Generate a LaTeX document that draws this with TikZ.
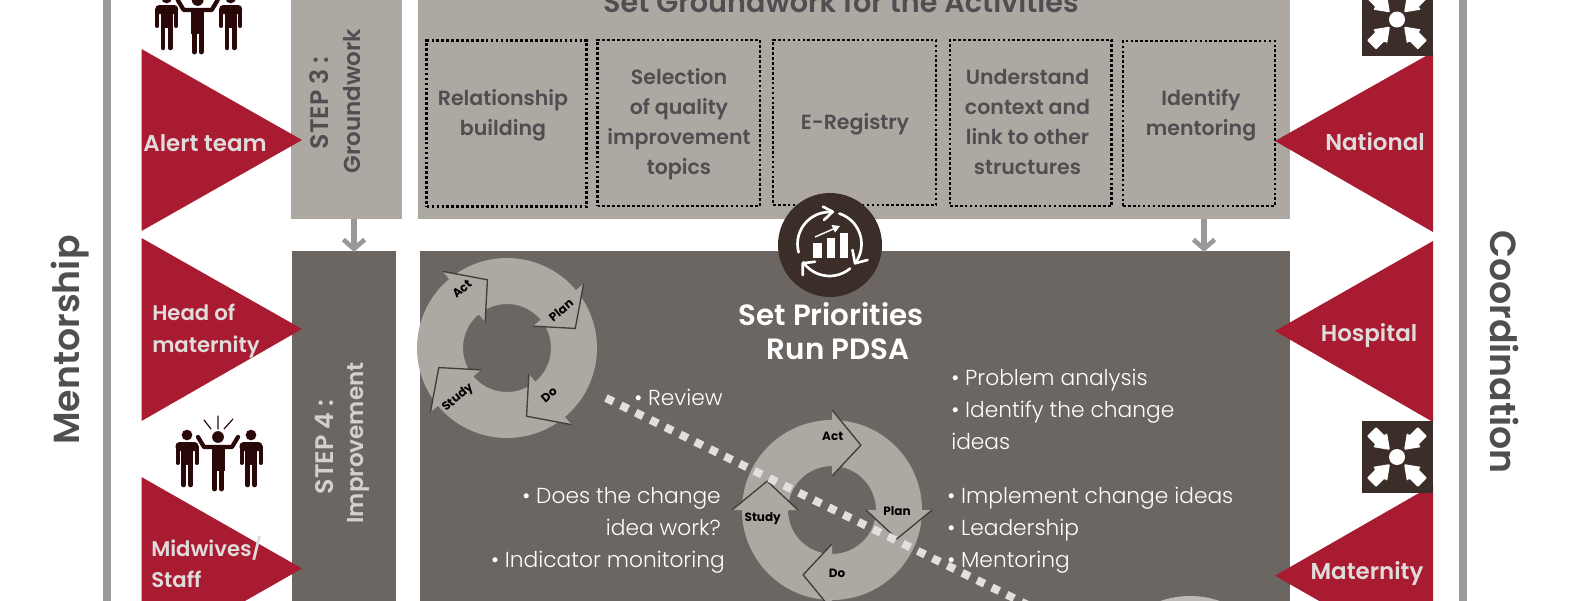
\documentclass[tikz,border=0pt]{standalone}
\usepackage{fontspec}
\usetikzlibrary{arrows.meta}
\setmainfont{Poppins}[BoldFont={* SemiBold}]
\newfontfamily\lightf{Poppins Light}
\newfontfamily\heavyf{Poppins Bold}
\definecolor{tan}{HTML}{ADA9A2}
\definecolor{slate}{HTML}{6B6661}
\definecolor{crimson}{HTML}{A81B30}
\definecolor{cocoa}{HTML}{3B2D27}
\definecolor{inkgray}{HTML}{504E50}
\definecolor{barg}{HTML}{999999}
\definecolor{pale}{HTML}{E0DCDC}
\definecolor{figc}{HTML}{2A0808}
\colorlet{edgec}{slate!60!black}
\tikzset{
 x=0.75pt,y=-0.75pt,
 panel/.style={draw=none,inner sep=0,outer sep=0},
 dotbox/.style={draw=black,line width=2pt,dash pattern=on 2pt off 1.7pt,inner sep=0,outer sep=0},
 boxtxt/.style={font=\bfseries\fontsize{15.4}{22.5}\selectfont,text=inkgray,align=center,inner sep=0},
 tritxt/.style={font=\bfseries\fontsize{17.2}{23.3}\selectfont,text=pale,align=left,inner sep=0},
 tritwo/.style={font=\bfseries\fontsize{15.9}{23.3}\selectfont,text=pale,align=left,inner sep=0},
 tri/.style={fill=crimson,draw=none},
 sidetxt/.style={font=\bfseries\fontsize{27.2}{30}\selectfont,text=inkgray,rotate=90,inner sep=0},
 steptxt/.style={font=\bfseries\fontsize{17.3}{26}\selectfont,rotate=90,inner sep=0,align=center},
 stepcap/.style={font=\bfseries\fontsize{19}{26}\selectfont,rotate=90,inner sep=0,align=center},
 headtxt/.style={font=\bfseries\fontsize{22}{26}\selectfont,text=white,inner sep=0},
 body/.style={font=\lightf\fontsize{16.3}{24}\selectfont,text=white,inner sep=0},
 downarrow/.style={draw=barg,line width=4.5pt,-{Straight Barb[length=7pt,width=16pt,line width=3.5pt]}},
 ringlab/.style={font=\heavyf\fontsize{9}{11}\selectfont,text=black,inner sep=0},
 ico/.style={draw=white,line width=2pt,line cap=round,line join=round},
}
\newcommand{\pdsaring}[2]{%
 \begin{scope}[shift={(#1)},x=0.75pt,y=0.75pt,rotate=#2]
  \fill[tan,even odd rule] (0,0) circle (67.5pt) (0,0) circle (33pt);
  \foreach \a in {90,0,-90,180}{
   \fill[tan] (\a:100) -- (\a-24:71) -- (\a:34) -- cycle;
   \draw[edgec,line width=1pt] (\a:100) -- (\a-24:71) -- (\a:34);
  }
 \end{scope}}
\newcommand{\sideman}[1]{%
 \begin{scope}[shift={(#1)},figc,line cap=round]
  \fill (0,0) circle (4pt);
  \fill[rounded corners=3pt] (-11.5,7) rectangle (11.5,16);
  \fill (-6,10) rectangle (6,30);
  \draw[line width=3pt] (-9.5,12) -- (-9.5,28) (9.5,12) -- (9.5,28);
  \draw[line width=3.4pt] (-3.6,28) -- (-3.6,50) (3.6,28) -- (3.6,50);
 \end{scope}}
\newcommand{\peoplegroup}[1]{%
 \begin{scope}[shift={(#1)}]
  \sideman{-31,-2}\sideman{33,-2}
  \begin{scope}[figc,line cap=round]
   \fill (0,0) circle (4.4pt);
   \fill (-6.5,10) rectangle (6.5,34);
   \draw[line width=3.2pt,line join=round] (-20,0) -- (-14,10) -- (14,10) -- (20,0);
   \draw[line width=3.6pt] (-3.4,32) -- (-3.4,52) (3.4,32) -- (3.4,52);
   \draw[line width=.9pt] (-14,-17) -- (-7,-8) (0,-21) -- (0,-8) (15,-18) -- (6,-8);
  \end{scope}
 \end{scope}}
\newcommand{\converge}[1]{%
 \begin{scope}[shift={(#1)},x=0.75pt,y=0.75pt]
  \fill[cocoa] (-35.5,-36) rectangle (35.5,36);
  \fill[white] (0,0) circle (6pt);
  \foreach \r in {45,135,225,315}{
   \fill[white,rotate=\r,rounded corners=.8pt] (10,0) -- (24,10) -- (24,6.5) -- (36,6.5) -- (36,-6.5) -- (24,-6.5) -- (24,-10) -- cycle;
  }
 \end{scope}}
\begin{document}
\begin{tikzpicture}
\clip (0,0) rectangle (1574,600);
\fill[white] (0,0) rectangle (1574,600);
% side bars
\fill[barg] (103,-5) rectangle (111,605);
\fill[barg] (1459,-5) rectangle (1467,605);
\node[sidetxt] (mentor) at (70,340) {Mentorship};
\node[sidetxt,rotate=180] (coord) at (1505,352) {Coordination};
% panels
\node[panel,fill=tan,minimum width=111*.75pt,minimum height=229*.75pt,anchor=south west] (s3) at (291,219) {};
\node[panel,fill=tan,minimum width=872*.75pt,minimum height=229*.75pt,anchor=south west] (top) at (418,219) {};
\node[panel,fill=slate,minimum width=104*.75pt,minimum height=359*.75pt,anchor=north west] (s4) at (291.5,251) {};
\node[panel,fill=slate,minimum width=870*.75pt,minimum height=359*.75pt,anchor=north west] (main) at (419.5,251) {};
% arrows
\coordinate (a1) at (354,219); \coordinate (a2) at (354,252);
\coordinate (b1) at (1204,219); \coordinate (b2) at (1204,252);
\draw[downarrow] (a1) -- (a2);
\draw[downarrow] (b1) -- (b2);
% step labels
\node[stepcap,text=inkgray] (s3a) at (319,103) {STEP 3 :};
\node[steptxt,text=inkgray] (s3b) at (352,101) {Groundwork};
\node[stepcap,text=pale!90!slate] (s4a) at (324,447) {STEP 4 :};
\node[steptxt,text=pale!90!slate] (s4b) at (358,443) {Improvement};
\node[font=\bfseries\fontsize{21.5}{24}\selectfont,text=inkgray,inner sep=0,anchor=base] (gw) at (841,12) {Set Groundwork for the Activities};
% dotted boxes
\node[dotbox,minimum width=160*.75pt,minimum height=166*.75pt,anchor=north west] (d1) at (426.7,40.7) {};
\node[dotbox,minimum width=162.5*.75pt,minimum height=166*.75pt,anchor=north west] (d2) at (597.5,40) {};
\node[dotbox,minimum width=163*.75pt,minimum height=165*.75pt,anchor=north west] (d3) at (773,40) {};
\node[dotbox,minimum width=161.7*.75pt,minimum height=166*.75pt,anchor=north west] (d4) at (950,40) {};
\node[dotbox,minimum width=152*.75pt,minimum height=165*.75pt,anchor=north west] (d5) at (1123,41) {};
\node[boxtxt] (t1) at (503,115) {Relationship\\building};
\node[boxtxt] (t2) at (679,124) {Selection\\of quality\\improvement\\topics};
\node[boxtxt] (t3) at (855,124) {E-Registry};
\node[boxtxt] (t4) at (1027.5,122) {Understand\\context and\\link to other\\structures};
\node[boxtxt] (t5) at (1201,115) {Identify\\mentoring};
% triangles
\fill[tri] (141.5,49) -- (302,140) -- (141.5,231) -- cycle;
\fill[tri] (141.5,238) -- (302,329) -- (141.5,421) -- cycle;
\fill[tri] (141.5,477) -- (302,568.5) -- (141.5,660) -- cycle;
\fill[tri] (1433,52) -- (1275,141) -- (1433,232) -- cycle;
\fill[tri] (1433,241) -- (1275,331) -- (1433,422) -- cycle;
\fill[tri] (1433,485) -- (1275,575.7) -- (1433,666) -- cycle;
\node[tritxt] (l1) at (205,143) {Alert team};
\node[tritwo,anchor=west] (l2) at (152,331) {Head of\\maternity};
\node[tritwo,anchor=west] (l3) at (151,562) {Midwives/\\Staff};
\node[tritxt] (r1) at (1375,142) {National};
\node[tritxt] (r2) at (1369,335.5) {Hospital};
\node[tritxt] (r3) at (1367,574) {Maternity};
% people and converge icons
\peoplegroup{218,437}
\peoplegroup{197.7,0}
\converge{1397,457}
\converge{1397,19.5}
% PDSA rings
\pdsaring{507,348}{40}
\pdsaring{832,510}{0}
\fill[tan!80!white] (1190,686) circle (67.5pt);
\node[ringlab,rotate=40] (ra) at (462,289) {Act};
\node[ringlab,rotate=40] (rp) at (561,310) {Plan};
\node[ringlab,rotate=40] (rs) at (458,398) {Study};
\node[ringlab,rotate=40] (rd) at (549,395) {Do};
\node[ringlab] (qa) at (832.7,436) {Act};
\node[ringlab] (qp) at (897,511) {Plan};
\node[ringlab] (qs) at (762.7,519) {Study};
\node[ringlab] (qd) at (837,573) {Do};
% dotted diagonal
\coordinate (dg1) at (606,398); \coordinate (dg2) at (1040,611);
\draw[draw=pale!90!white,line width=6pt,dash pattern=on 6.2pt off 6.2pt] (dg1) -- (dg2);
% central badge
\node[circle,fill=cocoa,minimum size=78pt,inner sep=0] (badge) at (830,245) {};
\begin{scope}[shift={(829.5,244)},x=0.75pt,y=0.75pt]
 \draw[ico] (195:24pt) arc (195:85:24pt);
 \draw[ico] (-6.5,37.3) -- (3.2,32.3) -- (-5.5,24);
 \draw[ico] (72:24pt) arc (72:-35:24pt);
 \draw[ico] (23,-6) -- (25.5,-19.3) -- (38,-16);
 \draw[ico] (-50:24pt) arc (-50:-145:24pt);
 \draw[ico] (-14.5,-17.7) -- (-26.8,-19.3) -- (-26.8,-31);
 \fill[white] (-16.2,-14.3) rectangle (-7.2,0.7);
 \fill[white] (-2.8,-14.3) rectangle (5.5,6);
 \fill[white] (10.5,-14.3) rectangle (18.8,11);
 \draw[white,line width=1.1pt] (-14.5,7) -- (6,16);
 \fill[white] (10.5,18) -- (2,19) -- (5.5,11.5) -- cycle;
\end{scope}
% headings
\node[headtxt] (hd1) at (831,314) {Set Priorities};
\node[headtxt] (hd2) at (838,349) {Run PDSA};
% bullet text
\node[body,anchor=base west] (b1t) at (951,385) {• Problem analysis};
\node[body,anchor=base west] (b2t) at (951,417) {• Identify the change};
\node[body,anchor=base west] (b3t) at (951,449) {ideas};
\node[body,anchor=base west] (b4t) at (947,503) {• Implement change ideas};
\node[body,anchor=base west] (b5t) at (947,535) {• Leadership};
\node[body,anchor=base west] (b6t) at (947,567) {• Mentoring};
\node[body,anchor=base east] (l1t) at (721,503) {• Does the change};
\node[body,anchor=base east] (l2t) at (721,535) {idea work?};
\node[body,anchor=base east] (l3t) at (725,567) {• Indicator monitoring};
\node[body,anchor=base west] (l4t) at (634,405) {• Review};
\end{tikzpicture}
\end{document}
